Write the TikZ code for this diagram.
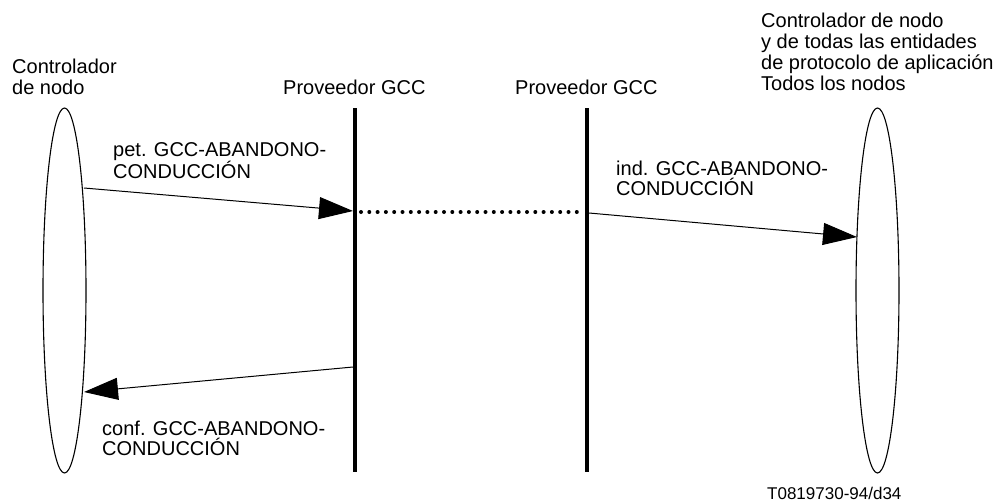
\documentclass[tikz,border=0pt]{standalone}
\usepackage{fontspec}
\setmainfont{Liberation Sans}
\usetikzlibrary{arrows.meta,shapes.geometric}
\begin{document}
\begin{tikzpicture}[x=1pt,y=-1pt,
  lbl/.style={anchor=north west,inner sep=0pt,align=left,font=\fontsize{20}{21}\selectfont},
  mlbl/.style={anchor=north west,inner sep=0pt,align=left,font=\fontsize{20}{19.5}\selectfont},
  ent/.style={draw,ellipse,line width=1.1pt,minimum width=43pt,minimum height=365pt,inner sep=0pt},
  prov/.style={line width=4pt},
  msg/.style={line width=1pt,-{Triangle[length=34pt,width=22pt]}},
  dots/.style={line width=4pt,line cap=round,dash pattern=on 0pt off 8.3pt}]
\useasboundingbox (0,0) rectangle (999,501);

% entities
\node[ent] (L) at (64.5,290.5) {};
\node[ent] (R) at (877.5,290.5) {};

% providers
\coordinate (P1t) at (355,108);
\coordinate (P1b) at (355,472);
\coordinate (P2t) at (587,108);
\coordinate (P2b) at (587,472);
\draw[prov] (P1t) -- (P1b);
\draw[prov] (P2t) -- (P2b);

% message points
\coordinate (a1s) at (84,188);
\coordinate (a1e) at (353,211);
\coordinate (d1s) at (361,212);
\coordinate (d1e) at (583,212);
\coordinate (a2s) at (589,213);
\coordinate (a2e) at (857,237);
\coordinate (a3s) at (353,367);
\coordinate (a3e) at (84,392);

\draw[msg] (a1s) -- (a1e);
\draw[dots] (d1s) -- (d1e);
\draw[msg] (a2s) -- (a2e);
\draw[msg] (a3s) -- (a3e);

% labels
\node[lbl] (tL) at (12,58.5) {Controlador\\de nodo};
\node[lbl] (tP1) at (283,79.5) {Proveedor GCC};
\node[lbl] (tP2) at (515,79.5) {Proveedor GCC};
\node[lbl] (tR) at (761,12.5) {Controlador de nodo\\y de todas las entidades\\de protocolo de aplicación\\Todos los nodos};
\node[mlbl] (m1) at (113,142) {pet. GCC-ABANDONO-\\CONDUCCIÓN};
\node[mlbl] (m2) at (616,161) {ind. GCC-ABANDONO-\\CONDUCCIÓN};
\node[mlbl] (m3) at (102,421) {conf. GCC-ABANDONO-\\CONDUCCIÓN};
\node[anchor=north west,inner sep=0pt,font=\fontsize{17}{19}\selectfont] (id) at (767,486.8) {T0819730-94/d34};
\end{tikzpicture}
\end{document}
